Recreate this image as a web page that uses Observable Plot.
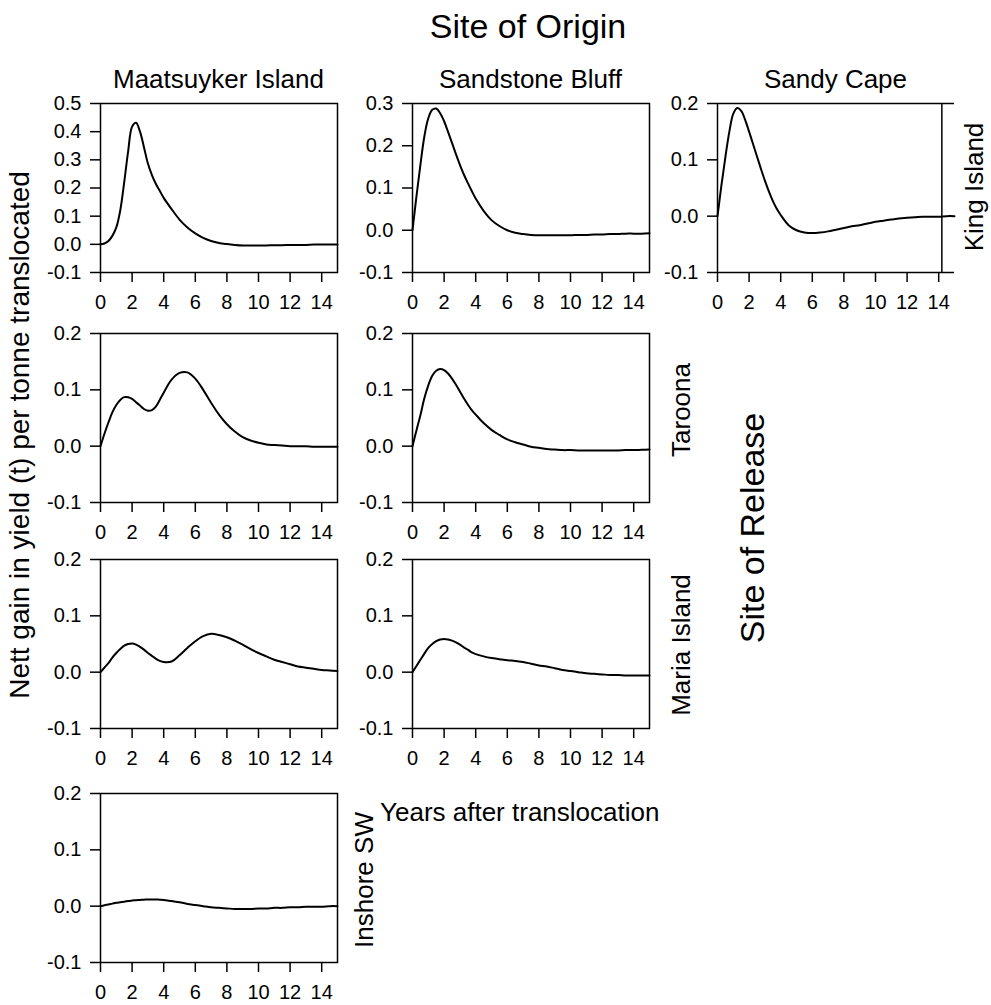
<!DOCTYPE html>
<html>
<head>
<meta charset="utf-8">
<script src="https://cdn.jsdelivr.net/npm/d3@7"></script>
<script src="https://cdn.jsdelivr.net/npm/@observablehq/plot@0.6"></script>
<style>
  html, body { margin: 0; padding: 0; background: #fff; }
  #root { position: relative; width: 991px; height: 1005px; overflow: hidden; font-family: "Liberation Sans", Arial, sans-serif; }
  .panel { position: absolute; }
  .panel text { font-size: 20px !important; font-family: "Liberation Sans", Arial, sans-serif !important; }
  #overlay { position: absolute; left: 0; top: 0; pointer-events: none; }
</style>
</head>
<body>
<div id="root"></div>
<script>
// ---- Data ----
const years = [0,0.25,0.5,0.75,1,1.25,1.5,1.75,2,2.25,2.5,2.75,3,3.25,3.5,3.75,4,
  4.5,5,5.5,6,6.5,7,7.5,8,8.5,9,9.5,10,10.5,11,11.5,12,12.5,13,13.5,14,14.5,15];

const originSites = ["Maatsuyker Island", "Sandstone Bluff", "Sandy Cape"];
const releaseSites = ["King Island", "Taroona", "Maria Island", "Inshore SW"];

const xTicks = [0,2,4,6,8,10,12,14];

const maatsuykerKing = [0,0.003,0.012,0.03,0.06,0.12,0.22,0.33,0.418,0.432,0.40,0.345,0.287,0.247,0.215,0.19,0.165,
  0.125,0.088,0.06,0.039,0.023,0.012,0.005,0.001,-0.002,-0.004,-0.004,-0.004,-0.004,-0.003,-0.003,-0.002,-0.002,-0.002,-0.001,-0.001,-0.001,-0.001];
const sandstoneKing = [0,0.08,0.155,0.222,0.265,0.285,0.288,0.277,0.258,0.233,0.207,0.18,0.155,0.132,0.112,0.093,0.075,
  0.046,0.024,0.01,0.0,-0.006,-0.009,-0.011,-0.012,-0.012,-0.012,-0.012,-0.012,-0.011,-0.011,-0.010,-0.010,-0.009,-0.009,-0.008,-0.008,-0.008,-0.007];
const sandyCapeKing = [0,0.055,0.105,0.15,0.182,0.192,0.187,0.171,0.15,0.128,0.106,0.084,0.063,0.044,0.027,0.013,0.002,
  -0.016,-0.025,-0.029,-0.030,-0.029,-0.027,-0.024,-0.021,-0.018,-0.016,-0.013,-0.010,-0.008,-0.006,-0.004,-0.003,-0.002,-0.001,-0.001,-0.001,0,0];
const maatsuykerTaroona = [0,0.022,0.042,0.06,0.073,0.082,0.087,0.087,0.084,0.078,0.072,0.066,0.063,0.064,0.07,0.082,0.095,
  0.118,0.130,0.131,0.12,0.1,0.077,0.056,0.039,0.026,0.016,0.01,0.006,0.003,0.002,0.001,0,0,0,-0.001,-0.001,-0.001,-0.001];
const sandstoneTaroona = [0,0.028,0.055,0.085,0.108,0.125,0.134,0.137,0.135,0.129,0.12,0.109,0.097,0.085,0.074,0.064,0.056,
  0.041,0.029,0.02,0.012,0.007,0.003,-0.001,-0.003,-0.005,-0.006,-0.007,-0.007,-0.0075,-0.0075,-0.0075,-0.0075,-0.0075,-0.0075,-0.007,-0.007,-0.0065,-0.006];
const maatsuykerMaria = [0,0.008,0.016,0.026,0.034,0.041,0.047,0.05,0.051,0.049,0.045,0.04,0.034,0.029,0.024,0.02,0.018,
  0.019,0.03,0.043,0.055,0.064,0.068,0.066,0.062,0.056,0.049,0.041,0.034,0.028,0.022,0.018,0.014,0.01,0.008,0.006,0.004,0.003,0.002];
const sandstoneMaria = [0,0.011,0.022,0.033,0.043,0.05,0.055,0.058,0.059,0.058,0.056,0.053,0.049,0.044,0.04,0.035,0.032,
  0.028,0.025,0.023,0.021,0.02,0.018,0.015,0.012,0.01,0.007,0.004,0.002,0.0,-0.002,-0.003,-0.004,-0.005,-0.005,-0.006,-0.006,-0.006,-0.006];
const maatsuykerInshore = [0,0.0015,0.003,0.0045,0.006,0.007,0.008,0.009,0.010,0.0105,0.011,0.0115,0.012,0.012,0.012,0.0115,0.011,
  0.009,0.007,0.004,0.002,0.0,-0.002,-0.003,-0.004,-0.005,-0.005,-0.005,-0.004,-0.004,-0.003,-0.003,-0.002,-0.002,-0.001,-0.001,-0.001,0,0];

const yTicksKing1 = [-0.1,0,0.1,0.2,0.3,0.4,0.5];
const yTicksKing2 = [-0.1,0,0.1,0.2,0.3];
const yTicksStd = [-0.1,0,0.1,0.2];
const sandyCapeRightEdge = 14.2;

// ---- Layout ----
const FW = 237, FH = 169;
const ML = 60, MR = 12, MT = 10, MB = 50;
const colLeft = [100, 412, 717];
const rowTop = [103, 333, 559, 793];
const FONT = '"Liberation Sans", Arial, sans-serif';

const panels = [
  {row: 0, col: 0, values: maatsuykerKing, ticks: yTicksKing1},
  {row: 0, col: 1, values: sandstoneKing, ticks: yTicksKing2},
  {row: 0, col: 2, values: sandyCapeKing, ticks: yTicksStd, openRight: true},
  {row: 1, col: 0, values: maatsuykerTaroona, ticks: yTicksStd},
  {row: 1, col: 1, values: sandstoneTaroona, ticks: yTicksStd},
  {row: 2, col: 0, values: maatsuykerMaria, ticks: yTicksStd},
  {row: 2, col: 1, values: sandstoneMaria, ticks: yTicksStd},
  {row: 3, col: 0, values: maatsuykerInshore, ticks: yTicksStd}
];

const root = document.getElementById("root");

for (const p of panels) {
  const data = years.map((t, i) => ({t, v: p.values[i]}));
  const yDomain = [p.ticks[0], p.ticks[p.ticks.length - 1]];
  const border = p.openRight
    ? [Plot.ruleY(yDomain, {stroke: "black", strokeWidth: 1.5}),
       Plot.ruleX([0, sandyCapeRightEdge], {stroke: "black", strokeWidth: 1.5})]
    : [Plot.frame({stroke: "black", strokeWidth: 1.5})];
  const chart = Plot.plot({
    width: FW + ML + MR,
    height: FH + MT + MB,
    marginLeft: ML, marginRight: MR, marginTop: MT, marginBottom: MB,
    style: {fontFamily: FONT, fontSize: "20px", color: "black", background: "transparent", overflow: "visible"},
    x: {domain: [0, 15]},
    y: {domain: yDomain},
    marks: [
      ...border,
      Plot.axisX(xTicks, {tickSize: 10, tickPadding: 12, strokeWidth: 1.5, label: null, fill: "black", fontSize: 20, tickFormat: d => String(d)}),
      Plot.axisY(p.ticks, {tickSize: 10, tickPadding: 9, strokeWidth: 1.5, label: null, fill: "black", fontSize: 20, tickFormat: d => d.toFixed(1)}),
      Plot.line(data, {x: "t", y: "v", curve: "catmull-rom", stroke: "black", strokeWidth: 2})
    ]
  });
  chart.classList.add("panel");
  chart.style.left = (colLeft[p.col] - ML) + "px";
  chart.style.top = (rowTop[p.row] - MT) + "px";
  root.appendChild(chart);
}

// ---- Text overlay ----
const svg = d3.select(root).append("svg")
  .attr("id", "overlay").attr("width", 991).attr("height", 1005)
  .style("font-family", FONT);

svg.append("text").attr("x", 528).attr("y", 38).attr("text-anchor", "middle")
  .attr("font-size", 34).text("Site of Origin");

const colCenters = colLeft.map(l => l + FW / 2);
originSites.forEach((s, i) => {
  svg.append("text").attr("x", colCenters[i]).attr("y", 88).attr("text-anchor", "middle")
    .attr("font-size", 26).text(s);
});

const rowLabelPos = [[983, 187], [690, 410], [690, 645], [373, 880]];
releaseSites.forEach((s, i) => {
  const [x, y] = rowLabelPos[i];
  svg.append("text").attr("transform", `translate(${x},${y}) rotate(-90)`)
    .attr("text-anchor", "middle").attr("font-size", 26).text(s);
});

svg.append("text").attr("transform", "translate(764,528) rotate(-90)")
  .attr("text-anchor", "middle").attr("font-size", 34).text("Site of Release");

svg.append("text").attr("x", 380).attr("y", 821).attr("font-size", 26).text("Years after translocation");

svg.append("text").attr("transform", "translate(29,435) rotate(-90)")
  .attr("text-anchor", "middle").attr("font-size", 28).text("Nett gain in yield (t) per tonne translocated");
</script>
</body>
</html>
